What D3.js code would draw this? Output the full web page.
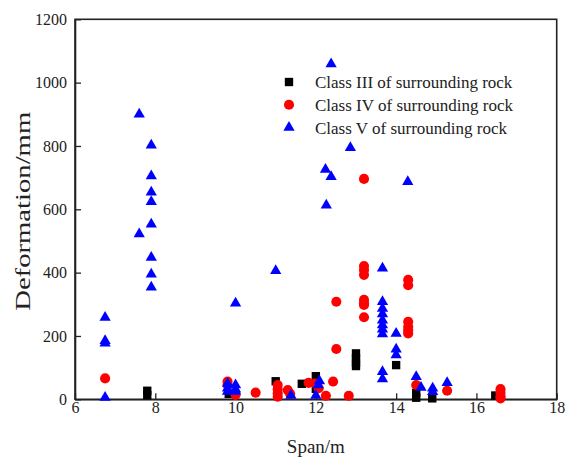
<!DOCTYPE html>
<html>
<head>
<meta charset="utf-8">
<script src="https://cdn.jsdelivr.net/npm/d3@7"></script>
<style>
  body { margin: 0; background: #fff; }
  text { font-family: "Liberation Serif", "Times New Roman", serif; fill: #222; }
</style>
</head>
<body>
<svg id="chart" width="570" height="459"></svg>
<script>
const X_TICKS = [6, 8, 10, 12, 14, 16, 18]
const Y_TICKS = [0, 200, 400, 600, 800, 1000, 1200]

const LEGEND = ['Class III of surrounding rock', 'Class IV of surrounding rock', 'Class V of surrounding rock']

// [span, deformation]
const CLASS_III = [
  [7.8, 27], [7.8, 13], [9.83, 17], [11.0, 57], [11.65, 49], [12.0, 73], [12.0, 33],
  [13.0, 145], [13.0, 130], [13.0, 115], [13.0, 105], [14.0, 108],
  [14.5, 20], [14.5, 5], [14.9, 3], [16.47, 12],
]

const CLASS_IV = [
  [6.75, 66], [9.8, 56], [9.8, 45], [10.0, 14], [10.5, 21],
  [11.05, 45], [11.05, 32], [11.05, 19], [11.05, 8], [11.3, 29], [11.36, 17],
  [11.82, 52], [11.98, 50], [12.07, 35], [12.25, 11], [12.43, 56], [12.82, 11],
  [12.51, 308], [12.51, 159],
  [13.2, 696], [13.2, 421], [13.2, 408], [13.2, 393], [13.2, 314], [13.2, 303], [13.2, 298], [13.2, 259],
  [14.3, 377], [14.3, 360], [14.3, 245], [14.3, 229], [14.3, 218], [14.3, 208],
  [14.5, 45], [15.27, 27],
  [16.6, 32], [16.6, 21], [16.6, 10], [16.6, 3],
]

const CLASS_V = [
  [6.75, 258], [6.75, 185], [6.75, 177], [6.75, 6],
  [7.6, 900], [7.6, 522],
  [7.9, 802], [7.9, 705], [7.9, 654], [7.9, 624], [7.9, 553], [7.9, 448], [7.9, 395], [7.9, 354],
  [9.8, 50], [9.8, 35], [9.8, 25], [10.0, 45], [10.0, 32], [10.0, 25], [10.0, 303],
  [11.0, 406], [11.38, 12], [12.0, 12], [12.09, 58], [12.06, 45],
  [12.38, 1059], [12.24, 726], [12.38, 703], [12.26, 613], [12.86, 794],
  [13.66, 414], [13.66, 308], [13.66, 287], [13.66, 269], [13.66, 250], [13.66, 235], [13.66, 221], [13.66, 206],
  [13.66, 87], [13.66, 64],
  [14.0, 208], [14.0, 158], [14.0, 140], [14.29, 687],
  [14.5, 71], [14.62, 37], [14.91, 35], [14.91, 24], [15.27, 52],
]

const svg = d3.select('#chart')

const x = d3.scaleLinear().domain([6, 18]).range([75, 556.7])
const y = d3.scaleLinear().domain([0, 1200]).range([399.3, 19.3])

// cadre
svg.append('rect')
  .attr('x', x(6)).attr('y', y(1200))
  .attr('width', x(18) - x(6)).attr('height', y(0) - y(1200))
  .attr('fill', 'none').attr('stroke', '#222').attr('stroke-width', 1.6)

// axes, ticks vers l'interieur
const xAxis = svg.append('g')
  .attr('transform', `translate(0,${y(0)})`)
  .call(d3.axisBottom(x).tickValues(X_TICKS).tickFormat(d3.format('d'))
    .tickSizeInner(-6).tickSizeOuter(0).tickPadding(2))
const yAxis = svg.append('g')
  .attr('transform', `translate(${x(6)},0)`)
  .call(d3.axisLeft(y).tickValues(Y_TICKS).tickFormat(d3.format('d'))
    .tickSizeInner(-6).tickSizeOuter(0).tickPadding(8))

for (const ax of [xAxis, yAxis]) {
  ax.attr('font-family', '"Liberation Serif", serif').attr('font-size', 16)
  ax.select('.domain').attr('stroke', '#222').attr('stroke-width', 1.6)
  ax.selectAll('.tick line').attr('stroke', '#222').attr('stroke-width', 1.3)
  ax.selectAll('.tick text').attr('fill', '#222')
}
// avec padding negatif les labels x se placent mal, on les remet sous l'axe
xAxis.selectAll('.tick text').attr('y', 2).attr('dy', '0.71em')

// titres des axes
svg.append('text')
  .attr('x', (x(6) + x(18)) / 2).attr('y', 453)
  .attr('text-anchor', 'middle')
  .style('font-size', '19px')
  .text('Span/m')

svg.append('text')
  .attr('transform', `translate(30,${(y(0) + y(1200)) / 2 + 2}) rotate(-90)`)
  .attr('text-anchor', 'middle')
  .attr('textLength', 199)
  .attr('lengthAdjust', 'spacingAndGlyphs')
  .style('font-size', '21px')
  .text('Deformation/mm')

// symboles
const square = d3.symbol().type(d3.symbolSquare).size(70)
const circle = d3.symbol().type(d3.symbolCircle).size(80)
const triangle = d3.symbol().type(d3.symbolTriangle).size(55)

const series = [
  { data: CLASS_III, sym: square, color: '#000000' },
  { data: CLASS_IV, sym: circle, color: '#ff0000' },
  { data: CLASS_V, sym: triangle, color: '#0000ff' },
]

series.forEach(s => {
  svg.append('g').selectAll('path')
    .data(s.data)
    .enter()
    .append('path')
    .attr('transform', d => `translate(${x(d[0])},${y(d[1])})`)
    .attr('d', s.sym())
    .attr('fill', s.color)
})

// la legende
const legend = svg.append('g')
  .attr('transform', 'translate(289,82)')

legend.selectAll('path')
  .data(series)
  .enter()
  .append('path')
  .attr('transform', (d, i) => `translate(0,${i * 22.8})`)
  .attr('d', d => d.sym())
  .attr('fill', d => d.color)

legend.selectAll('text')
  .data(LEGEND)
  .enter()
  .append('text')
  .attr('x', 26)
  .attr('y', (d, i) => i * 22.8 + 6)
  .style('font-size', '17px')
  .text(d => d)
</script>
</body>
</html>
